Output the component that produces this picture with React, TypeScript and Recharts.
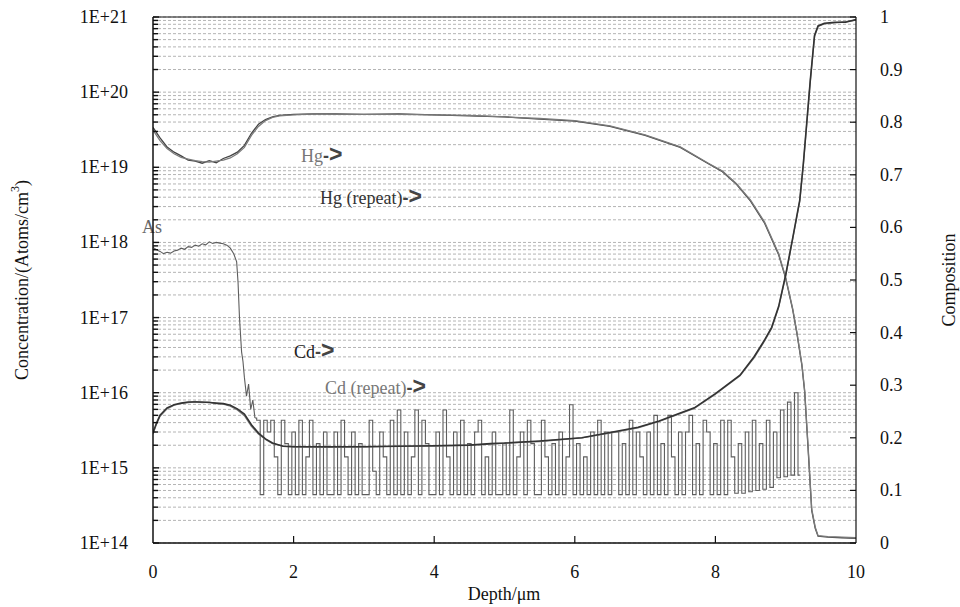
import React from "react";
import { ComposedChart, Line, XAxis, YAxis, CartesianGrid, ReferenceLine } from "recharts";

// ---------- data ----------
const DEPTH_TICKS = [0, 2, 4, 6, 8, 10];
const CONC_TICKS = [
  1e14, 2e14, 3e14, 4e14, 5e14, 6e14, 7e14, 8e14, 9e14,
  1e15, 2e15, 3e15, 4e15, 5e15, 6e15, 7e15, 8e15, 9e15,
  1e16, 2e16, 3e16, 4e16, 5e16, 6e16, 7e16, 8e16, 9e16,
  1e17, 2e17, 3e17, 4e17, 5e17, 6e17, 7e17, 8e17, 9e17,
  1e18, 2e18, 3e18, 4e18, 5e18, 6e18, 7e18, 8e18, 9e18,
  1e19, 2e19, 3e19, 4e19, 5e19, 6e19, 7e19, 8e19, 9e19,
  1e20, 2e20, 3e20, 4e20, 5e20, 6e20, 7e20, 8e20, 9e20,
  1e21,
];
const COMP_TICKS = [0, 0.1, 0.2, 0.3, 0.4, 0.5, 0.6, 0.7, 0.8, 0.9, 1];

// As profile, near-surface part (depth, concentration)
const AS_HEAD_DEPTH = [
  0, 0.05, 0.1, 0.15, 0.2, 0.25, 0.3, 0.35, 0.4, 0.45, 0.5, 0.55, 0.6, 0.65, 0.7, 0.75,
  0.8, 0.85, 0.9, 0.95, 1.0, 1.05, 1.1, 1.15, 1.19, 1.21, 1.23, 1.26, 1.28, 1.3, 1.33,
  1.36, 1.39, 1.42, 1.45,
];
const AS_HEAD_CONC = [
  8.6e17, 8.0e17, 7.6e17, 7.1e17, 7.4e17, 7.2e17, 7.7e17, 7.9e17, 8.4e17, 8.1e17, 8.8e17,
  8.6e17, 9.2e17, 8.9e17, 9.6e17, 9.3e17, 1.02e18, 9.7e17, 1.0e18, 9.8e17, 9.6e17, 9.2e17,
  8.4e17, 7.0e17, 5.5e17, 2.9e17, 1.0e17, 3.5e16, 2.6e16, 1.6e16, 9e15, 1.3e16, 6e15, 8e15,
  4.6e15,
];
// As background (detection-limit noise), sampled every 0.05 um starting at 1.50 um
const AS_NOISE_START = 1.5;
const AS_NOISE_STEP = 0.05;
const AS_NOISE_CONC = [
  // 1.50 - 2.45
  4.3e15, 4.4e14, 4.3e15, 3.0e15, 4.3e15, 1.4e15, 4.4e14, 4.3e15, 2.1e15, 4.4e14,
  3.0e15, 4.4e14, 4.3e15, 4.4e14, 1.4e15, 4.3e15, 4.4e14, 2.1e15, 4.4e14, 3.0e15,
  // 2.50 - 3.45
  4.4e14, 4.4e14, 3.0e15, 4.4e14, 4.3e15, 1.4e15, 4.4e14, 3.0e15, 4.4e14, 2.1e15,
  4.4e14, 4.4e14, 4.3e15, 9.0e14, 4.4e14, 3.0e15, 1.4e15, 4.4e14, 4.3e15, 4.4e14,
  // 3.50 - 4.45
  5.9e15, 4.4e14, 3.0e15, 4.4e14, 1.4e15, 5.9e15, 4.4e14, 4.3e15, 2.1e15, 4.4e14,
  4.4e14, 3.0e15, 4.4e14, 5.9e15, 1.4e15, 4.4e14, 3.0e15, 4.4e14, 4.3e15, 4.4e14,
  // 4.50 - 5.45
  2.1e15, 4.4e14, 3.0e15, 4.3e15, 4.4e14, 1.4e15, 4.4e14, 3.0e15, 4.4e14, 4.4e14,
  2.1e15, 4.4e14, 5.9e15, 4.4e14, 1.4e15, 3.0e15, 4.4e14, 4.3e15, 2.1e15, 4.4e14,
  // 5.50 - 6.45
  4.4e14, 4.3e15, 1.4e15, 4.4e14, 2.1e15, 4.4e14, 3.0e15, 4.4e14, 1.4e15, 6.9e15,
  4.4e14, 2.1e15, 4.4e14, 1.4e15, 4.4e14, 3.0e15, 4.4e14, 4.3e15, 4.4e14, 3.0e15,
  // 6.50 - 7.45
  4.4e14, 3.0e15, 3.0e15, 4.4e14, 2.1e15, 4.4e14, 4.3e15, 4.4e14, 3.0e15, 1.4e15,
  4.4e14, 3.0e15, 4.4e14, 5.0e15, 4.4e14, 2.1e15, 4.4e14, 5.0e15, 1.4e15, 4.4e14,
  // 7.50 - 8.45
  3.0e15, 4.4e14, 3.0e15, 5.0e15, 4.4e14, 2.1e15, 4.4e14, 4.3e15, 3.0e15, 4.4e14,
  2.1e15, 4.4e14, 4.3e15, 4.4e14, 4.3e15, 1.4e15, 4.6e14, 2.1e15, 4.6e14, 3.0e15,
  // 8.50 - 9.20
  4.8e14, 4.3e15, 5.0e14, 2.1e15, 5.2e14, 4.3e15, 5.5e14, 3.0e15, 7.4e14, 5.9e15,
  7.6e14, 7.5e15, 8.0e14, 1.0e16, 8.0e14,
];

// Composition profiles (depth, x-value)
const HG_DEPTH = [
  0, 0.1, 0.2, 0.3, 0.4, 0.5, 0.6, 0.7, 0.8, 0.9, 1.0, 1.1, 1.2, 1.3, 1.4, 1.5, 1.6, 1.7, 1.8,
  2.0, 2.3, 2.6, 3.0, 3.5, 4.0, 4.5, 5.0, 5.5, 6.0, 6.5, 7.0, 7.5, 7.9, 8.1, 8.3, 8.5, 8.7,
  8.9, 9.0, 9.1, 9.16, 9.23, 9.27, 9.32, 9.37, 9.42, 9.46, 9.6, 9.8, 10,
];
const HG_COMP = [
  0.785, 0.765, 0.75, 0.74, 0.733, 0.73, 0.727, 0.725, 0.724, 0.726, 0.728, 0.732, 0.74,
  0.752, 0.775, 0.792, 0.803, 0.809, 0.812, 0.814, 0.816, 0.815, 0.815, 0.815, 0.814, 0.813,
  0.81, 0.807, 0.803, 0.793, 0.776, 0.753, 0.722, 0.707, 0.683, 0.652, 0.61, 0.55, 0.505,
  0.445, 0.4, 0.34, 0.29, 0.18, 0.065, 0.03, 0.014, 0.012, 0.011, 0.01,
];
const HG_REPEAT_COMP = [
  0.79, 0.77, 0.753, 0.743, 0.736, 0.728, 0.726, 0.722, 0.727, 0.723, 0.731, 0.736, 0.743,
  0.756, 0.779, 0.796, 0.805, 0.81, 0.813, 0.815, 0.816, 0.816, 0.815, 0.816, 0.814, 0.812,
  0.81, 0.806, 0.802, 0.792, 0.775, 0.752, 0.721, 0.706, 0.682, 0.65, 0.608, 0.548, 0.503,
  0.443, 0.398, 0.338, 0.287, 0.176, 0.062, 0.028, 0.013, 0.011, 0.01, 0.009,
];
const CD_DEPTH = [
  0, 0.05, 0.1, 0.2, 0.3, 0.4, 0.5, 0.6, 0.7, 0.8, 0.9, 1.0, 1.1, 1.2, 1.3, 1.4, 1.5, 1.6,
  1.7, 1.85, 2.0, 2.5, 3.0, 3.5, 4.0, 4.5, 4.8, 5.0, 5.5, 6.1, 6.5, 6.9, 7.2, 7.5, 7.7, 8.0,
  8.35, 8.55, 8.7, 8.8, 8.9, 9.0, 9.1, 9.2, 9.25, 9.3, 9.35, 9.41, 9.46, 9.55, 9.7, 9.85, 10,
];
const CD_COMP = [
  0.21, 0.228, 0.243, 0.257, 0.263, 0.266, 0.268, 0.268, 0.268, 0.267, 0.266, 0.265, 0.262,
  0.255, 0.245, 0.225, 0.209, 0.198, 0.19, 0.184, 0.183, 0.183, 0.183, 0.184, 0.185, 0.186,
  0.189, 0.19, 0.194, 0.2, 0.21, 0.22, 0.232, 0.247, 0.257, 0.284, 0.319, 0.354, 0.386, 0.41,
  0.45, 0.51, 0.58, 0.652, 0.72, 0.8, 0.88, 0.965, 0.983, 0.988, 0.99, 0.99, 0.995,
];
const CD_REPEAT_COMP = [
  0.207, 0.226, 0.241, 0.255, 0.262, 0.265, 0.267, 0.269, 0.267, 0.268, 0.265, 0.264, 0.26,
  0.253, 0.242, 0.222, 0.207, 0.197, 0.189, 0.184, 0.183, 0.182, 0.183, 0.184, 0.184, 0.186,
  0.188, 0.19, 0.193, 0.2, 0.209, 0.219, 0.231, 0.246, 0.256, 0.283, 0.318, 0.352, 0.384,
  0.408, 0.448, 0.508, 0.578, 0.65, 0.718, 0.798, 0.878, 0.963, 0.982, 0.987, 0.989, 0.991,
  0.994,
];

// ---------- build series ----------
const asHeadData = AS_HEAD_DEPTH.map((d, i) => ({ depth: d, conc: AS_HEAD_CONC[i] }));
const asNoiseData = [
  asHeadData[asHeadData.length - 1],
  ...AS_NOISE_CONC.map((c, i) => ({
    depth: +(AS_NOISE_START + i * AS_NOISE_STEP).toFixed(3),
    conc: c,
  })),
];
const hgData = HG_DEPTH.map((d, i) => ({ depth: d, comp: HG_COMP[i] }));
const hgRepData = HG_DEPTH.map((d, i) => ({ depth: d, comp: HG_REPEAT_COMP[i] }));
const cdData = CD_DEPTH.map((d, i) => ({ depth: d, comp: CD_COMP[i] }));
const cdRepData = CD_DEPTH.map((d, i) => ({ depth: d, comp: CD_REPEAT_COMP[i] }));

const FONT = "'Liberation Serif', 'Times New Roman', serif";
const SANS = "'Liberation Sans', Arial, sans-serif";

const LeftTick = (props: any) => {
  const { x, y, payload } = props;
  const v = payload.value as number;
  const exp = Math.round(Math.log10(v));
  const isMajor = Math.abs(v - Math.pow(10, exp)) < v * 1e-6;
  return (
    <g>
      <line x1={x} x2={x + (isMajor ? 6 : 5)} y1={y} y2={y} stroke="#111" strokeWidth={1.4} />
      {isMajor && (
        <text x={x - 25} y={y} dy={6} textAnchor="end" fontFamily={FONT} fontSize={18} fill="#111">
          {`1E+${exp}`}
        </text>
      )}
    </g>
  );
};

const RightTick = (props: any) => {
  const { x, y, payload } = props;
  const v = payload.value as number;
  return (
    <g>
      <line x1={x - 6} x2={x} y1={y} y2={y} stroke="#111" strokeWidth={1.2} />
      <text x={x + 24} y={y} dy={6} textAnchor="start" fontFamily={FONT} fontSize={18} fill="#111">
        {String(Math.round(v * 10) / 10)}
      </text>
    </g>
  );
};

const BottomTick = (props: any) => {
  const { x, y, payload } = props;
  const v = payload.value as number;
  return (
    <g>
      {v > 0 && v < 10 && <line x1={x} x2={x} y1={y - 7} y2={y} stroke="#111" strokeWidth={1.2} />}
      <text x={x} y={y + 35} textAnchor="middle" fontFamily={FONT} fontSize={18} fill="#111">
        {String(v)}
      </text>
    </g>
  );
};

const Arrow = () => (
  <>
    <tspan fontFamily={SANS} fontWeight="bold" fontSize={18} fill="#444">-</tspan>
    <tspan fontFamily={SANS} fontWeight="bold" fontSize={23} fill="#444">&gt;</tspan>
  </>
);

export default function App() {
  return (
    <div style={{ position: "absolute", left: 0, top: 0, width: 960, height: 607 }}>
      <ComposedChart
        width={960}
        height={607}
        margin={{ top: 17, right: 44, bottom: 34, left: 93 }}
      >
        <CartesianGrid
          yAxisId="conc"
          vertical={false}
          stroke="#b4b4b4"
          strokeDasharray="3 2"
          strokeWidth={1}
        />
        <XAxis
          dataKey="depth"
          type="number"
          domain={[0, 10]}
          ticks={DEPTH_TICKS}
          allowDataOverflow
          height={30}
          tickSize={0}
          tickMargin={0}
          tickLine={false}
          tick={<BottomTick />}
          axisLine={{ stroke: "#111", strokeWidth: 1.5 }}
          interval={0}
        />
        <YAxis
          yAxisId="conc"
          orientation="left"
          type="number"
          scale="log"
          domain={[1e14, 1e21]}
          allowDataOverflow
          ticks={CONC_TICKS}
          interval={0}
          width={60}
          tickSize={0}
          tickMargin={0}
          tickLine={false}
          tick={<LeftTick />}
          axisLine={{ stroke: "#111", strokeWidth: 1.5 }}
        />
        <YAxis
          yAxisId="comp"
          orientation="right"
          type="number"
          domain={[0, 1]}
          allowDataOverflow
          ticks={COMP_TICKS}
          interval={0}
          width={60}
          tickSize={0}
          tickMargin={0}
          tickLine={false}
          tick={<RightTick />}
          axisLine={{ stroke: "#111", strokeWidth: 1.2 }}
        />
        <ReferenceLine yAxisId="comp" y={1} stroke="#111" strokeWidth={1.2} />

        <Line
          yAxisId="conc"
          data={asHeadData}
          dataKey="conc"
          type="linear"
          stroke="#5e5e5e"
          strokeWidth={1.1}
          dot={false}
          isAnimationActive={false}
        />
        <Line
          yAxisId="conc"
          data={asNoiseData}
          dataKey="conc"
          type="step"
          stroke="#5e5e5e"
          strokeWidth={1.1}
          dot={false}
          isAnimationActive={false}
        />
        <Line
          yAxisId="comp"
          data={hgRepData}
          dataKey="comp"
          type="linear"
          stroke="#444"
          strokeWidth={1.3}
          dot={false}
          isAnimationActive={false}
        />
        <Line
          yAxisId="comp"
          data={hgData}
          dataKey="comp"
          type="linear"
          stroke="#7a7a7a"
          strokeWidth={1.3}
          dot={false}
          isAnimationActive={false}
        />
        <Line
          yAxisId="comp"
          data={cdRepData}
          dataKey="comp"
          type="linear"
          stroke="#7a7a7a"
          strokeWidth={1.3}
          dot={false}
          isAnimationActive={false}
        />
        <Line
          yAxisId="comp"
          data={cdData}
          dataKey="comp"
          type="linear"
          stroke="#333"
          strokeWidth={1.6}
          dot={false}
          isAnimationActive={false}
        />

        <g>
          <text x={142} y={233} fontFamily={FONT} fontSize={18} fill="#666">As</text>
          <text x={301} y={162} fontFamily={FONT} fontSize={18} fill="#777">
            Hg<Arrow />
          </text>
          <text x={320} y={204} fontFamily={FONT} fontSize={18} fill="#333">
            Hg (repeat)<Arrow />
          </text>
          <text x={294} y={358} fontFamily={FONT} fontSize={18} fill="#222">
            Cd<Arrow />
          </text>
          <text x={325} y={394} fontFamily={FONT} fontSize={18} fill="#777">
            Cd (repeat)<Arrow />
          </text>
          <text
            x={22}
            y={280}
            transform="rotate(-90 22 280)"
            textAnchor="middle"
            dominantBaseline="central"
            fontFamily={FONT}
            fontSize={18}
            fill="#111"
          >
            Concentration/(Atoms/cm<tspan dy={-7} fontSize={12}>3</tspan><tspan dy={7}>)</tspan>
          </text>
          <text
            x={949}
            y={280}
            transform="rotate(-90 949 280)"
            textAnchor="middle"
            dominantBaseline="central"
            fontFamily={FONT}
            fontSize={18}
            fill="#111"
          >
            Composition
          </text>
          <text x={504} y={600} textAnchor="middle" fontFamily={FONT} fontSize={18} fill="#111">
            Depth/μm
          </text>
        </g>
      </ComposedChart>
    </div>
  );
}
